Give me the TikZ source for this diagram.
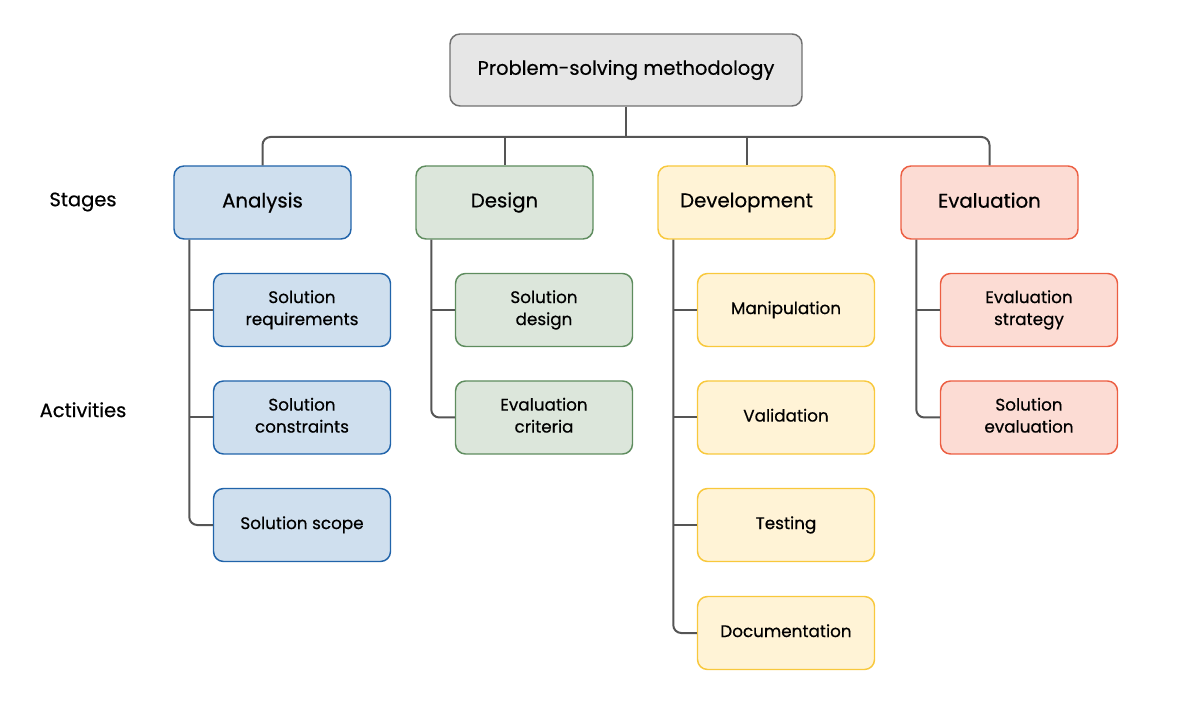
\documentclass[tikz,border=0pt]{standalone}
\usepackage{fontspec}
\setmainfont{Poppins}[FakeBold=0.5]
\definecolor{anfill}{HTML}{CFDFEE}
\definecolor{andraw}{HTML}{2164AA}
\definecolor{dsfill}{HTML}{DCE6DB}
\definecolor{dsdraw}{HTML}{5E8C5E}
\definecolor{dvfill}{HTML}{FFF3D6}
\definecolor{dvdraw}{HTML}{F8C83C}
\definecolor{evfill}{HTML}{FCDCD4}
\definecolor{evdraw}{HTML}{EC5E42}
\definecolor{topfill}{HTML}{E6E6E6}
\definecolor{topdraw}{HTML}{707070}
\definecolor{linec}{HTML}{555555}
\newcommand{\sx}{\rule[-3.5pt]{0pt}{13pt}}
\begin{document}
\begin{tikzpicture}[x=0.75pt,y=-0.75pt,
  box/.style={draw, rounded corners=7.5pt, line width=1.1pt, align=center, inner sep=0pt,
    minimum width=132.75pt, minimum height=54.75pt, text=black},
  stagebox/.style={box, font=\fontsize{14.8}{17}\selectfont},
  actbox/.style={box, font=\fontsize{12.6}{16.5}\selectfont},
  topbox/.style={box, fill=topfill, draw=topdraw, minimum width=264pt, minimum height=54pt,
    font=\fontsize{14.6}{17}\selectfont},
  an/.style={fill=anfill, draw=andraw},
  ds/.style={fill=dsfill, draw=dsdraw},
  dv/.style={fill=dvfill, draw=dvdraw},
  ev/.style={fill=evfill, draw=evdraw},
  conn/.style={draw=linec, line width=1.5pt},
  sidelabel/.style={font=\fontsize{14.6}{17}\selectfont, text=black}
]
\useasboundingbox (0,0) rectangle (1200,723);

\node[topbox] (top) at (626,70) {Problem-solving methodology\sx};

\node[stagebox, an] (an) at (262.5,202.5) {Analysis\sx};
\node[stagebox, ds] (ds) at (504.5,202.5) {Design\sx};
\node[stagebox, dv] (dv) at (746.5,202.5) {Development\sx};
\node[stagebox, ev] (ev) at (989.5,202.5) {Evaluation\sx};

\node[sidelabel] (stages) at (83,202) {Stages\sx};
\node[sidelabel] (acts) at (83,412) {Activities\sx};

\node[actbox, an] (a1) at (302,310) {Solution\sx\\requirements\sx};
\node[actbox, an] (a2) at (302,417.5) {Solution\sx\\constraints\sx};
\node[actbox, an] (a3) at (302,525) {Solution scope\sx};

\node[actbox, ds] (d1) at (544,310) {Solution\sx\\design\sx};
\node[actbox, ds] (d2) at (544,417.5) {Evaluation\sx\\criteria\sx};

\node[actbox, dv] (v1) at (786,310) {Manipulation\sx};
\node[actbox, dv] (v2) at (786,417.5) {Validation\sx};
\node[actbox, dv] (v3) at (786,525) {Testing\sx};
\node[actbox, dv] (v4) at (786,633) {Documentation\sx};

\node[actbox, ev] (e1) at (1029,310) {Evaluation\sx\\strategy\sx};
\node[actbox, ev] (e2) at (1029,417.5) {Solution\sx\\evaluation\sx};

% top connectors
\coordinate (bar) at (626,137);
\draw[conn] (top.south) -- (bar);
\draw[conn, rounded corners=6pt] (an.north) |- (bar) -| (ev.north);
\draw[conn] (ds.north |- bar) -- (ds.north);
\draw[conn] (dv.north |- bar) -- (dv.north);

% trunks
\coordinate (ta) at ([xshift=12pt]an.south west);
\coordinate (td) at ([xshift=12pt]ds.south west);
\coordinate (tv) at ([xshift=12pt]dv.south west);
\coordinate (te) at ([xshift=12pt]ev.south west);

\draw[conn, rounded corners=6pt] (ta) |- (a3.west);
\draw[conn] (a1.west) -- (a1.west -| ta);
\draw[conn] (a2.west) -- (a2.west -| ta);

\draw[conn, rounded corners=6pt] (td) |- (d2.west);
\draw[conn] (d1.west) -- (d1.west -| td);

\draw[conn, rounded corners=6pt] (tv) |- (v4.west);
\draw[conn] (v1.west) -- (v1.west -| tv);
\draw[conn] (v2.west) -- (v2.west -| tv);
\draw[conn] (v3.west) -- (v3.west -| tv);

\draw[conn, rounded corners=6pt] (te) |- (e2.west);
\draw[conn] (e1.west) -- (e1.west -| te);
\end{tikzpicture}
\end{document}
